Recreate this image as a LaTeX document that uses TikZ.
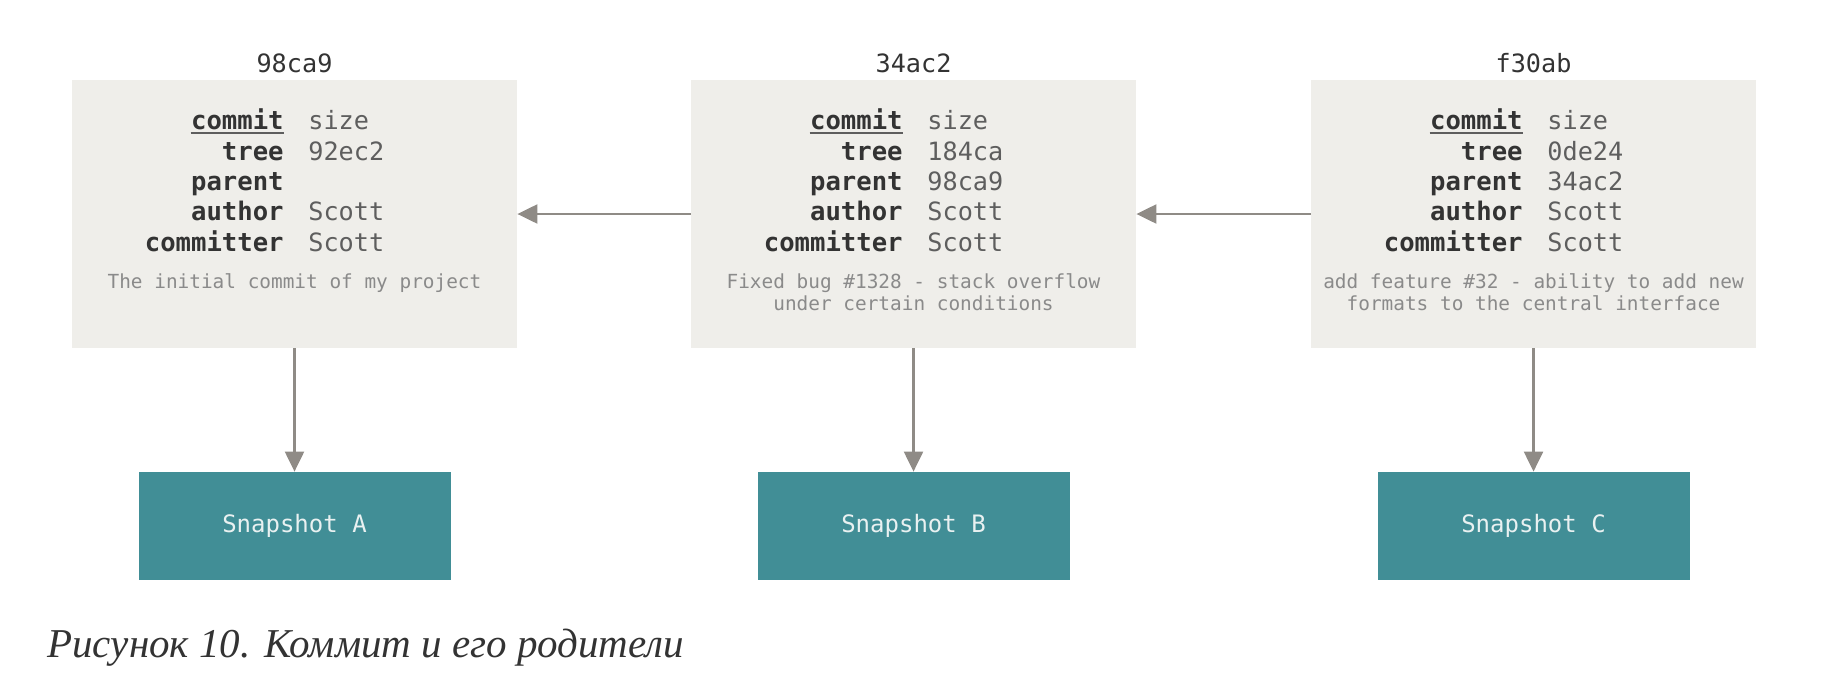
\documentclass[tikz,border=0pt]{standalone}
\usepackage{fontspec}
\setmonofont{DejaVu Sans Mono}
\newfontfamily\capfont{Liberation Serif}
\usetikzlibrary{arrows.meta}
\definecolor{boxfill}{HTML}{EFEEEA}
\definecolor{snapfill}{HTML}{418E96}
\definecolor{arrowgray}{HTML}{8F8B86}
\definecolor{labeltext}{HTML}{333333}
\definecolor{valuetext}{HTML}{5E5E5E}
\definecolor{msgtext}{HTML}{8A8A8A}
\definecolor{snaptext}{HTML}{E9F1F1}
\tikzset{
  commitbox/.style={fill=boxfill, draw=none, minimum width=222.5pt, minimum height=134pt, inner sep=0pt},
  snapbox/.style={fill=snapfill, draw=none, minimum width=156pt, minimum height=54pt, inner sep=0pt,
    text=snaptext, font=\ttfamily\fontsize{12}{14}\selectfont},
  hashlabel/.style={inner sep=0pt, anchor=base, text=labeltext, font=\ttfamily\fontsize{12.6}{15}\selectfont},
  fieldname/.style={inner sep=0pt, anchor=base east, text=labeltext, font=\ttfamily\bfseries\fontsize{12.8}{15}\selectfont},
  fieldvalue/.style={inner sep=0pt, anchor=base west, text=valuetext, font=\ttfamily\fontsize{12.6}{15}\selectfont},
  message/.style={inner sep=0pt, anchor=base, text=msgtext, font=\ttfamily\fontsize{9.7}{11}\selectfont},
  link/.style={draw=arrowgray, line width=1.1pt, -{Triangle[length=10pt,width=9.5pt]}},
  caption/.style={inner sep=0pt, anchor=base west, text=labeltext, font=\capfont\itshape\fontsize{20.5}{24}\selectfont}
}
\begin{document}
\begin{tikzpicture}[x=0.5pt,y=-0.5pt]
\useasboundingbox (0,0) rectangle (1830,686);
\foreach \i/\cx/\hash/\tv/\pv/\snap in {1/294.5/98ca9/92ec2//A, 2/913.5/34ac2/184ca/98ca9/B, 3/1533.5/f30ab/0de24/34ac2/C}{
  \node[commitbox] (c\i) at (\cx,214) {};
  \node[hashlabel] (h\i) at (\cx,72.5) {\hash};
  \node[fieldname] (nc\i) at (\cx-10.5,129.5) {commit};
  \node[fieldname] (nt\i) at (\cx-10.5,160) {tree};
  \node[fieldname] (np\i) at (\cx-10.5,190) {parent};
  \node[fieldname] (na\i) at (\cx-10.5,220.5) {author};
  \node[fieldname] (nm\i) at (\cx-10.5,251) {committer};
  \node[fieldvalue] (vc\i) at (\cx+13.5,129.5) {size};
  \node[fieldvalue] (vt\i) at (\cx+13.5,160) {\tv};
  \node[fieldvalue] (vp\i) at (\cx+13.5,190) {\pv};
  \node[fieldvalue] (va\i) at (\cx+13.5,220.5) {Scott};
  \node[fieldvalue] (vm\i) at (\cx+13.5,251) {Scott};
  \draw[valuetext, line width=1pt] ([yshift=-1.7pt]nc\i.base west) -- ([yshift=-1.7pt]nc\i.base east);
  \node[snapbox] (s\i) at (\cx,526) {Snapshot \snap};
  \draw[link] (c\i.south) -- (s\i.north);
}
\node[message] (m1) at (294.5,288) {The initial commit of my project};
\node[message] (m2a) at (913.5,288) {Fixed bug \#1328 - stack overflow};
\node[message] (m2b) at (913.5,310) {under certain conditions};
\node[message] (m3a) at (1533.5,288) {add feature \#32 - ability to add new};
\node[message] (m3b) at (1533.5,310) {formats to the central interface};
\draw[link] (c2.west) -- (c1.east);
\draw[link] (c3.west) -- (c2.east);
\node[caption] (cap) at (47,657) {Рисунок 10. Коммит и его родители};
\end{tikzpicture}
\end{document}
